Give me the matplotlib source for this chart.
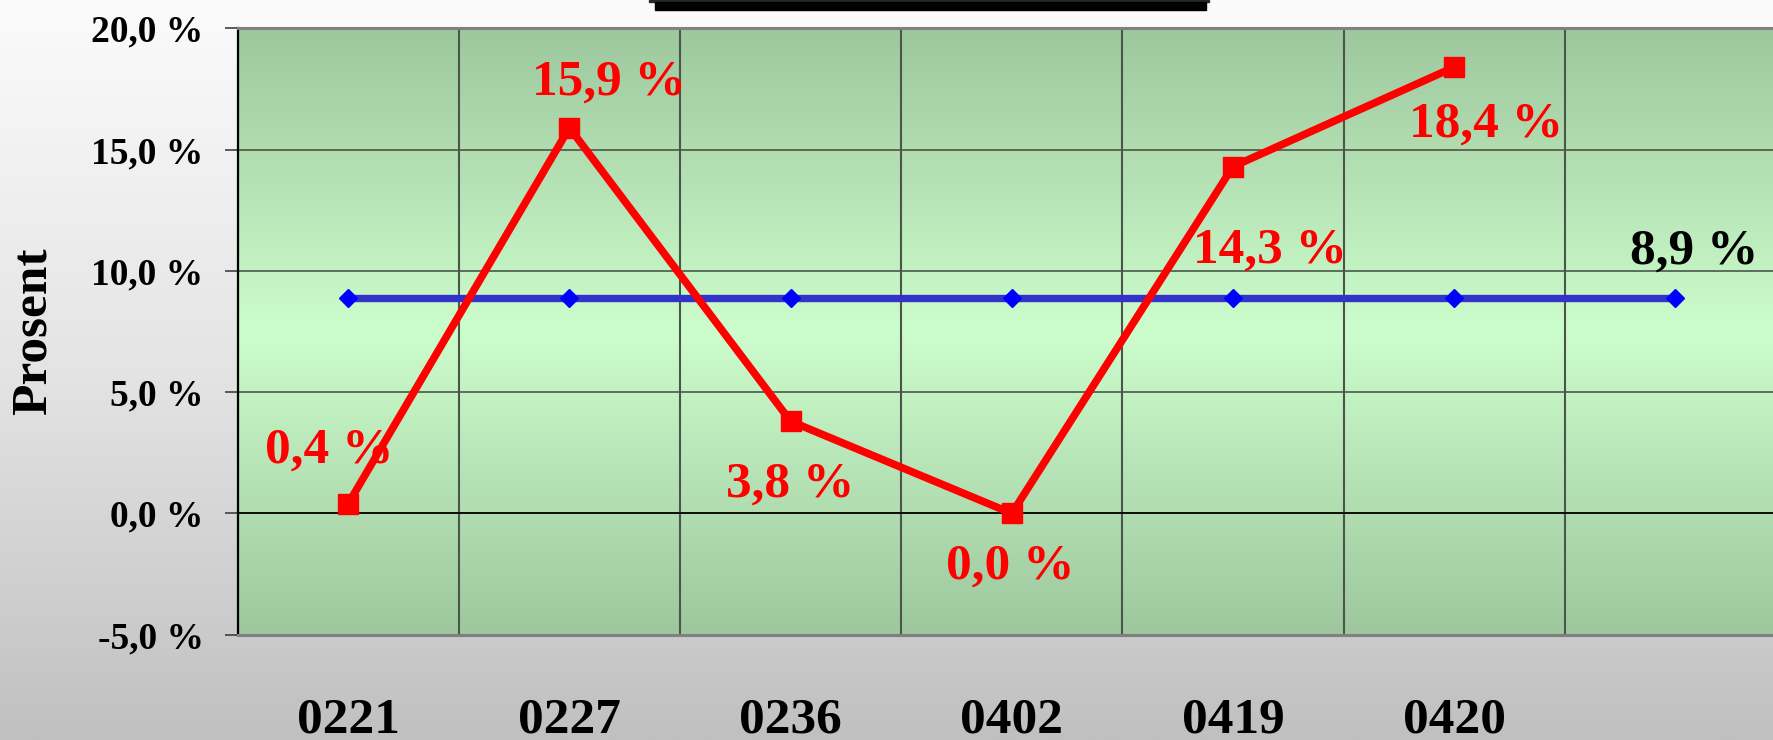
import numpy as np
import matplotlib
matplotlib.use('Agg')
import matplotlib.pyplot as plt
from matplotlib.colors import LinearSegmentedColormap
from matplotlib.patches import Rectangle

# ---- data ----
categories = ['0221', '0227', '0236', '0402', '0419', '0420', '']
red_values = [0.4, 15.9, 3.8, 0.0, 14.3, 18.4]
red_labels = ['0,4 %', '15,9 %', '3,8 %', '0,0 %', '14,3 %', '18,4 %']
blue_values = [8.9, 8.9, 8.9, 8.9, 8.9, 8.9, 8.9]
blue_label = '8,9 %'
yticks = [-5, 0, 5, 10, 15, 20]
ytick_labels = ['-5,0 %', '0,0 %', '5,0 %', '10,0 %', '15,0 %', '20,0 %']
ylabel = 'Prosent'

# label offsets in pixels (dx, dy)
red_offsets_px = [(-19, 53), (40, 45), (0, -63), (-2, -53), (37, -84), (32, -58)]
blue_offset_px = (19, 46)

FONT = 'Liberation Serif'
plt.rcParams['font.family'] = [FONT, 'DejaVu Serif']
plt.rcParams['font.weight'] = 'bold'

W, H = 1774, 740
fig = plt.figure(figsize=(W / 100, H / 100), dpi=100)

# figure background gradient
bg = fig.add_axes([0, 0, 1, 1], zorder=-10)
grad = np.linspace(0, 1, 256).reshape(-1, 1)
cmap_bg = LinearSegmentedColormap.from_list('bg', ['#fbfbfb', '#e4e4e4', '#c0c0c0'])
bg.imshow(grad, aspect='auto', cmap=cmap_bg, extent=[0, 1, 0, 1], origin='upper')
bg.set_xlim(0, 1)
bg.set_ylim(0, 1)
bg.axis('off')

# title box remnant at top
bg.add_patch(Rectangle((649 / W, 1 - 2 / H), 560 / W, 2 / H, color='#1e2e1e', zorder=5))
bg.add_patch(Rectangle((655 / W, 1 - 9.5 / H), 551 / W, 8 / H, color='black', zorder=5))

# plot axes
left, top, bottom = 237.6, 28.3, 634.7
ax = fig.add_axes([left / W, 1 - bottom / H, 1548.4 / W, (bottom - top) / H])
cmap_pa = LinearSegmentedColormap.from_list('pa', ['#9ec79e', '#ccfdcc', '#9ec79e'])
ax.imshow(grad, aspect='auto', cmap=cmap_pa, extent=[0, 1, 0, 1],
          transform=ax.transAxes, origin='upper', zorder=0)

x = np.arange(len(categories))
ax.plot(x, blue_values, color='#3333cc', lw=5.3, marker='D', ms=8.7,
        mfc='#0000ff', mec='#0000ff', zorder=3, solid_capstyle='butt')
ax.plot(x[:len(red_values)], red_values, color='#ff0000', lw=5.5, marker='s', ms=14.4,
        mfc='#ff0000', mec='#ff0000', zorder=4, solid_joinstyle='miter')

ax.set_xlim(-0.5, len(categories) - 0.5)
ax.set_ylim(-5, 20)

ax.set_yticks(yticks)
ax.set_yticklabels(ytick_labels, fontsize=27, fontweight='bold')
ax.set_xticks(x)
ax.set_xticklabels(categories, fontsize=37, fontweight='bold')
ax.set_xticks(np.arange(len(categories) + 1) - 0.5, minor=True)
ax.tick_params(axis='x', which='both', length=0, pad=45)
ax.tick_params(axis='y', which='major', length=9.5, width=1.2, color='#404040',
               direction='out', pad=15)
ax.grid(axis='y', which='major', color='#4a564a', lw=1.2, zorder=1)
ax.grid(axis='x', which='minor', color='#4a564a', lw=1.5, zorder=1)
ax.axhline(0, color='black', lw=1.2, zorder=1.6)

for s in ['top', 'bottom']:
    ax.spines[s].set_color('#808080')
    ax.spines[s].set_linewidth(2.2)
ax.spines['left'].set_color('black')
ax.spines['left'].set_linewidth(1.6)
ax.spines['right'].set_visible(False)

# data labels
for xi, v, lab, (dx, dy) in zip(x, red_values, red_labels, red_offsets_px):
    ax.annotate(lab, (xi, v), xytext=(dx * 0.72, dy * 0.72), textcoords='offset points',
                ha='center', va='center', color='#ff0000', fontsize=37,
                fontweight='bold', zorder=6, annotation_clip=False)
ax.annotate(blue_label, (x[-1], blue_values[-1]),
            xytext=(blue_offset_px[0] * 0.72, blue_offset_px[1] * 0.72),
            textcoords='offset points', ha='center', va='center', color='black',
            fontsize=37, fontweight='bold', zorder=6, annotation_clip=False)

fig.text(34 / W, 1 - 331 / H, ylabel, rotation=90, ha='center', va='center',
         fontsize=37, fontweight='bold', color='black')

fig.savefig('out.png', dpi=100)
